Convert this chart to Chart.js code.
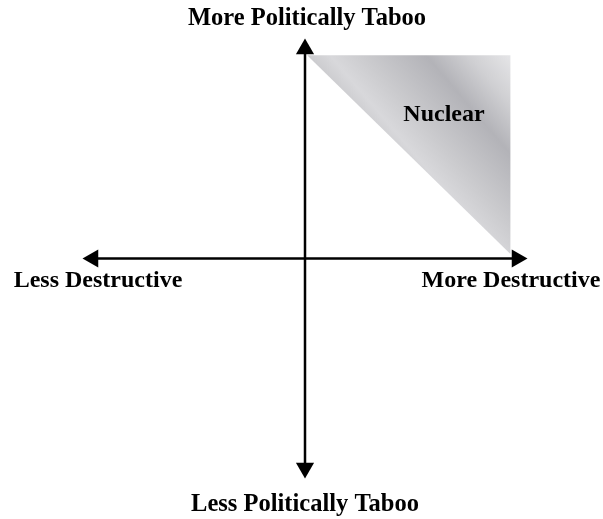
<!DOCTYPE html>
<html>
<head>
<meta charset="utf-8">
<script src="https://cdn.jsdelivr.net/npm/chart.js@4/dist/chart.umd.min.js"></script>
<style>
html,body{margin:0;padding:0;background:#fff;}
canvas{display:block;}
</style>
</head>
<body>
<canvas id="c" width="603" height="519"></canvas>
<script>
// Axis endpoints (data units)
const horizontalAxis = [{x:-100, y:0}, {x:100, y:0}];
const verticalAxis = [{x:0, y:-100}, {x:0, y:100}];
// Arrow heads at axis ends and their directions (degrees)
const arrowPoints = [{x:0, y:100}, {x:100, y:0}, {x:0, y:-100}, {x:-100, y:0}];
const arrowRotations = [0, 90, 180, 270];
// Nuclear region: hypotenuse filled up to the top edge
const nuclearEdge = [{x:1, y:97}, {x:97, y:2}];
const nuclearTop = 97;
// Labels
const labelTexts = ['More Politically Taboo', 'Less Politically Taboo', 'Less Destructive', 'More Destructive', 'Nuclear'];

const labelPlugin = {
  id: 'labels',
  afterDraw(chart) {
    const ctx = chart.ctx;
    ctx.save();
    ctx.fillStyle = '#000';
    ctx.textAlign = 'center';
    ctx.textBaseline = 'alphabetic';
    const pos = [[307, 25, 24.5], [305, 511, 24.5], [98, 287, 24], [511, 287, 24], [444, 121, 24]];
    labelTexts.forEach((t, i) => {
      ctx.font = 'bold ' + pos[i][2] + 'px "Liberation Serif", "Times New Roman", serif';
      ctx.fillText(t, pos[i][0], pos[i][1]);
    });
    ctx.restore();
  }
};

function nuclearGradient(context) {
  const chart = context.chart;
  if (!chart.chartArea) return '#c8c8cc';
  const xs = chart.scales.x, ys = chart.scales.y;
  const x0 = xs.getPixelForValue(1), y0 = ys.getPixelForValue(97);
  // metallic gradient, bands running roughly parallel to the hypotenuse
  const g = chart.ctx.createLinearGradient(x0, y0, x0 + 119.6, y0 - 102.3);
  g.addColorStop(0, '#cbcbce');
  g.addColorStop(0.11, '#d8d8db');
  g.addColorStop(0.27, '#cbcbce');
  g.addColorStop(0.574, '#b3b3b8');
  g.addColorStop(0.78, '#d0d0d3');
  g.addColorStop(1, '#e7e7e9');
  return g;
}

new Chart(document.getElementById('c'), {
  type: 'scatter',
  data: {
    datasets: [
      {
        data: nuclearEdge,
        showLine: true,
        borderWidth: 0,
        borderColor: 'rgba(0,0,0,0)',
        pointRadius: 0,
        fill: {value: nuclearTop},
        backgroundColor: nuclearGradient,
        order: 3,
        clip: false
      },
      {
        data: horizontalAxis,
        showLine: true,
        borderColor: '#000',
        borderWidth: 2.5,
        pointRadius: 0,
        order: 2,
        clip: false
      },
      {
        data: verticalAxis,
        showLine: true,
        borderColor: '#000',
        borderWidth: 2.5,
        pointRadius: 0,
        order: 2,
        clip: false
      },
      {
        data: arrowPoints,
        showLine: false,
        pointStyle: 'triangle',
        rotation: arrowRotations,
        pointRadius: 10.5,
        pointBackgroundColor: '#000',
        pointBorderColor: '#000',
        pointBorderWidth: 0,
        order: 1,
        clip: false
      }
    ]
  },
  options: {
    responsive: false,
    animation: false,
    events: [],
    layout: {padding: {left: 93, right: 86, top: 49, bottom: 51}},
    scales: {
      x: {type: 'linear', min: -100, max: 100, display: false},
      y: {type: 'linear', min: -100, max: 100, display: false}
    },
    plugins: {
      legend: {display: false},
      tooltip: {enabled: false},
      title: {display: false}
    }
  },
  plugins: [labelPlugin]
});
</script>
</body>
</html>
